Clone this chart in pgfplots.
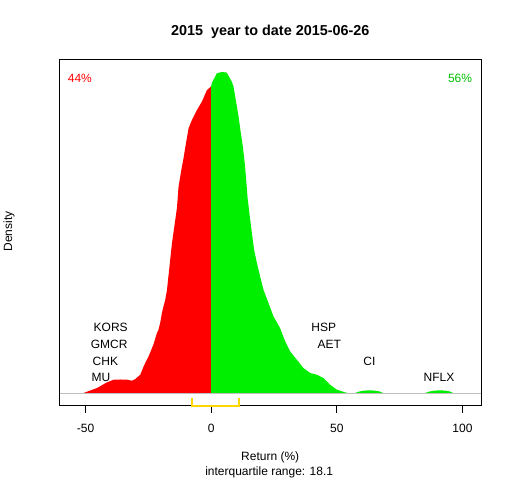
\documentclass[border=0pt]{standalone}
\usepackage{fontspec}
\setmainfont{Liberation Sans}
\usepackage{pgfplots}
\pgfplotsset{compat=1.18}
\definecolor{rgreen}{HTML}{00EE00}
\definecolor{rred}{HTML}{FF0000}
\definecolor{rgold}{HTML}{FFD700}
\definecolor{rgrey}{HTML}{BEBEBE}
\begin{document}
\begin{tikzpicture}[x=1pt,y=1pt,font=\fontsize{12}{14}\selectfont]
\path (0,0) rectangle (512,480);
\begin{axis}[
  at={(59.3pt,74pt)}, anchor=south west,
  scale only axis, width=421.7pt, height=346.7pt,
  xmin=-60.3, xmax=107.4, ymin=-12.7, ymax=334,
  xtick={-50,0,50,100}, xticklabels={-50,0,50,100},
  ytick=\empty, xtick pos=lower,
  tick align=outside, major tick length=7pt,
  axis line style={black, line width=0.8pt},
  every tick/.style={black, line width=0.8pt},
  xticklabel style={font=\fontsize{12}{14}\selectfont, yshift=-8pt},
  clip=false,
]
\addplot[fill=rred, draw=none] coordinates {
(-50.8,0) (-45.4,5) (-41.5,10.6) (-38.8,13.3) (-36.2,13.5) (-33.5,13.3)
(-31.5,12.3) (-30.2,14) (-28.2,18.3) (-26.9,26.6) (-25.6,33.3) (-24.9,36.6)
(-22.9,49) (-21.6,60) (-21.0,63) (-20.3,70) (-19.6,80) (-19.0,86.6)
(-18.3,93) (-17.6,103) (-16.6,126.6) (-15.6,150) (-14.3,173) (-13.6,186)
(-13.0,206) (-11.9,223) (-11.0,235) (-10.3,246) (-9.0,265) (-7.7,273)
(-5.7,283) (-3.7,291.6) (-1.7,303) (0,307) (0,0)
} \closedcycle;
\addplot[fill=rgreen, draw=none] coordinates {
(0,0) (0,307) (0.3,310.6) (2.3,320) (4.3,321.3) (6.2,320.6) (8.2,311.6)
(8.9,306.6) (9.9,291.6) (10.9,276.6) (11.8,260) (12.6,246.6) (13.5,226.6)
(14.5,195) (15.3,178) (16.2,160) (17.1,143) (18.2,130) (19.5,116.6)
(20.8,103.3) (22.8,90) (24.8,76.6) (27.4,65) (29.4,52) (31.4,41.6)
(34.1,33.3) (36.7,25) (39.4,20) (42.0,18.3) (44.7,15) (47.3,8.3)
(50.0,3.3) (53.3,0.6) (54.5,0)
} \closedcycle;
\addplot[fill=rgreen, draw=none] coordinates {
(57.3,0) (59,1.5) (61,2.4) (63,2.6) (65,2.4) (67,1.5) (68.5,0)
} \closedcycle;
\addplot[fill=rgreen, draw=none] coordinates {
(85.1,0) (87,1.5) (89,2.4) (91,2.6) (93,2.4) (95,1.5) (96.3,0)
} \closedcycle;
\addplot[rgrey, line width=0.8pt] coordinates {(-60.3,0) (107.4,0)};
\addplot[rgold, line width=2.2pt] coordinates {(-7.5,-5) (-7.5,-13.4) (11.1,-13.4) (11.1,-5)};
\node at (axis cs:-40.0,65.6) {KORS};
\node at (axis cs:-40.6,49) {GMCR};
\node at (axis cs:-42.1,31.6) {CHK};
\node at (axis cs:-43.9,16) {MU};
\node at (axis cs:44.8,66) {HSP};
\node at (axis cs:47.0,49) {AET};
\node at (axis cs:63.0,31.6) {CI};
\node at (axis cs:90.7,15.6) {NFLX};
\end{axis}
\node[font=\fontsize{14.4}{17}\selectfont\bfseries] at (270,448.3) {2015\ \ year to date 2015-06-26};
\node[text=rred] at (79.5,401.7) {44\%};
\node[text=rgreen!80!black] at (460,401.7) {56\%};
\node[rotate=90] at (8.5,248.3) {Density};
\node at (270,22.7) {Return (\%)};
\node at (269,7.7) {interquartile range: 18.1};
\end{tikzpicture}
\end{document}
